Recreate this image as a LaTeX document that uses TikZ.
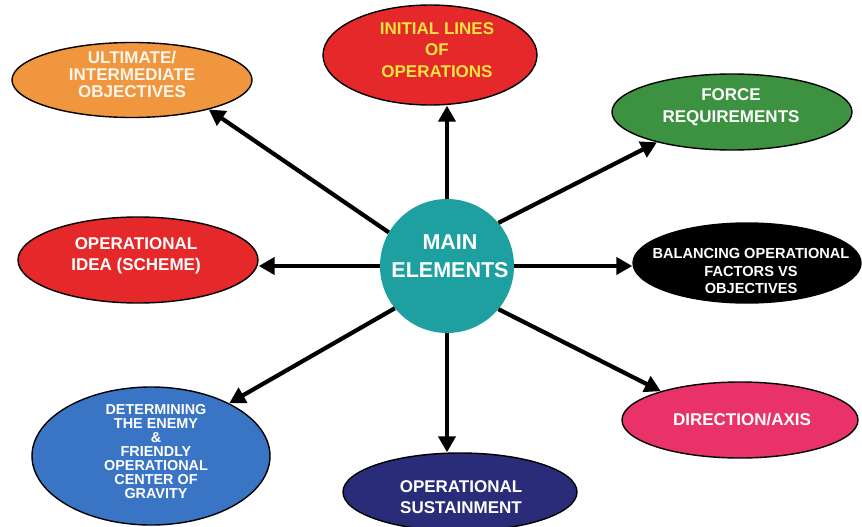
\documentclass[tikz,border=0pt]{standalone}
\usepackage{fontspec}
\setmainfont{Liberation Sans}
\usetikzlibrary{shapes.geometric,arrows.meta}
\definecolor{cOrange}{RGB}{240,150,62}
\definecolor{cRed}{RGB}{229,40,42}
\definecolor{cYellow}{RGB}{246,228,64}
\definecolor{cGreen}{RGB}{60,146,64}
\definecolor{cBlue}{RGB}{58,116,196}
\definecolor{cNavy}{RGB}{42,44,122}
\definecolor{cPink}{RGB}{232,50,104}
\definecolor{cTeal}{RGB}{30,160,160}
\tikzset{
  ell/.style={ellipse, draw=black, line width=1.4pt, inner sep=0pt},
  txt/.style={align=center, text=white, inner sep=0pt, font=\bfseries\fontsize{17}{21.5}\selectfont},
  arr/.style={line width=4.2pt, -{Triangle[length=16pt,width=17pt]}},
}
\begin{document}
\begin{tikzpicture}[x=1pt,y=1pt]
\useasboundingbox (0,0) rectangle (862,-527);
% main circle
\node[circle, fill=cTeal, minimum size=134pt, inner sep=0pt] (main) at (447,-266) {};
\node[txt, font=\bfseries\fontsize{21.5}{27.7}\selectfont] (mainT) at (450,-256) {MAIN\\ELEMENTS};
% ellipses
\node[ell, fill=cOrange, minimum width=240pt, minimum height=75pt] (ult) at (132,-80) {};
\node[txt, text={rgb,255:red,255;green,246;blue,236}, font=\bfseries\fontsize{17}{17}\selectfont] (ultT) at (132,-74) {ULTIMATE/\\INTERMEDIATE\\OBJECTIVES};
\node[ell, fill=cRed, minimum width=214pt, minimum height=100pt] (init) at (430,-55) {};
\node[txt, text=cYellow] (initT) at (437,-50) {INITIAL LINES\\OF\\OPERATIONS};
\node[ell, fill=cGreen, minimum width=240pt, minimum height=76pt] (force) at (732,-112) {};
\node[txt] (forceT) at (731,-107) {FORCE\\REQUIREMENTS};
\node[ell, fill=black, minimum width=228pt, minimum height=80pt] (bal) at (747,-263) {};
\node[txt, font=\bfseries\fontsize{14.6}{17.5}\selectfont] (balT) at (751,-271) {BALANCING OPERATIONAL\\FACTORS VS\\OBJECTIVES};
\node[ell, fill=cRed, minimum width=240pt, minimum height=86pt] (idea) at (138,-260) {};
\node[txt] (ideaT) at (136,-256) {OPERATIONAL\\IDEA (SCHEME)};
\node[ell, fill=cBlue, minimum width=238pt, minimum height=138pt] (det) at (151,-456) {};
\node[txt, font=\bfseries\fontsize{14.4}{14}\selectfont] (detT) at (156,-452) {DETERMINING\\THE ENEMY\\\&\\FRIENDLY\\OPERATIONAL\\CENTER OF\\GRAVITY};
\node[ell, fill=cNavy, minimum width=234pt, minimum height=78pt] (sus) at (460,-492) {};
\node[txt] (susT) at (461,-497) {OPERATIONAL\\SUSTAINMENT};
\node[ell, fill=cPink, minimum width=236pt, minimum height=76pt] (dir) at (740,-420) {};
\node[txt] (dirT) at (742,-420) {DIRECTION/AXIS};
% arrows
\draw[arr] (main.150) -- (ult.-21);
\draw[arr] (main.north) -- (main.north |- init.south);
\draw[arr] (main.40) -- (force.202);
\draw[arr] (main.east) -- (main.east -| bal.west);
\draw[arr] (main.west) -- (main.west -| idea.east);
\draw[arr] (main.219) -- (det.34);
\draw[arr] (main.south) -- (main.south |- sus.north);
\draw[arr] (main.-40) -- (dir.160);
\end{tikzpicture}
\end{document}
